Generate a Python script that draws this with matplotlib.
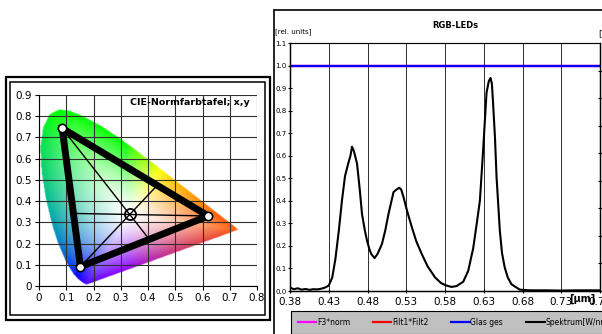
import numpy as np
import matplotlib
matplotlib.use("Agg")
import matplotlib.pyplot as plt
from matplotlib.patches import Rectangle
from matplotlib.path import Path

# CIE 1931 spectral locus (x, y), 380 -> 700 nm
locus_x = [0.1741, 0.1733, 0.1714, 0.1644, 0.1566, 0.1440, 0.1241, 0.1096, 0.0913, 0.0687,
           0.0454, 0.0235, 0.0082, 0.0039, 0.0139, 0.0389, 0.0743, 0.1142, 0.1547, 0.2296,
           0.3016, 0.3731, 0.4441, 0.5125, 0.5752, 0.6270, 0.6658, 0.6915, 0.7079, 0.7190,
           0.7260, 0.7347]
locus_y = [0.0050, 0.0048, 0.0051, 0.0109, 0.0177, 0.0297, 0.0578, 0.0868, 0.1327, 0.2007,
           0.2950, 0.4127, 0.5384, 0.6548, 0.7502, 0.8120, 0.8338, 0.8262, 0.8059, 0.7543,
           0.6923, 0.6245, 0.5547, 0.4866, 0.4242, 0.3725, 0.3340, 0.3083, 0.2920, 0.2809,
           0.2740, 0.2653]

# LED primaries (green, red, blue) and white point
prim_x = [0.085, 0.621, 0.152]
prim_y = [0.743, 0.330, 0.091]
white_x, white_y = 0.333, 0.337

# spectrum of the RGB LEDs
wl_um = [0.380, 0.385, 0.390, 0.395, 0.400, 0.405, 0.410, 0.415, 0.420, 0.425, 0.430, 0.4345,
         0.4385, 0.443, 0.447, 0.451, 0.4557, 0.458, 0.460, 0.4625, 0.4665, 0.470, 0.4729,
         0.4765, 0.4794, 0.4825, 0.4849, 0.4891, 0.493, 0.4986, 0.503, 0.5071, 0.5136, 0.5175,
         0.5209, 0.5235, 0.5264, 0.5315, 0.5372, 0.543, 0.550, 0.5575, 0.5672, 0.575, 0.582,
         0.5885, 0.595, 0.6035, 0.610, 0.6164, 0.621, 0.625, 0.6292, 0.6336, 0.6365, 0.6387,
         0.6405, 0.642, 0.6445, 0.6465, 0.6507, 0.6535, 0.657, 0.661, 0.6657, 0.6764, 0.690,
         0.710, 0.730, 0.750, 0.780]
spektrum = [0.015, 0.008, 0.012, 0.006, 0.009, 0.005, 0.008, 0.007, 0.010, 0.015, 0.024, 0.060,
            0.140, 0.268, 0.400, 0.510, 0.573, 0.600, 0.640, 0.620, 0.565, 0.450, 0.342,
            0.270, 0.223, 0.185, 0.164, 0.146, 0.165, 0.208, 0.270, 0.342, 0.439, 0.450,
            0.458, 0.450, 0.417, 0.350, 0.283, 0.220, 0.164, 0.110, 0.060, 0.035, 0.024,
            0.018, 0.022, 0.041, 0.090, 0.190, 0.300, 0.400, 0.625, 0.880, 0.930, 0.945,
            0.920, 0.835, 0.680, 0.507, 0.270, 0.170, 0.105, 0.060, 0.030, 0.006, 0.003,
            0.003, 0.002, 0.003, 0.003]
glas_ges = [1.0, 1.0]
legend_labels = ["F3*norm", "Filt1*Filt2", "Glas ges", "Spektrum[W/nm]"]

W, H = 602, 334
fig = plt.figure(figsize=(W / 100, H / 100), dpi=100)
fig.patch.set_facecolor("white")


def fx(px):
    return px / W


def fy(py):
    return 1 - py / H


def box_blur(a, r):
    k = np.ones(2 * r + 1) / (2 * r + 1)
    a = np.apply_along_axis(lambda v: np.convolve(v, k, mode="same"), 0, a)
    return np.apply_along_axis(lambda v: np.convolve(v, k, mode="same"), 1, a)


def xy_to_rgb(x, y):
    y = np.clip(y, 1e-3, None)
    X, Z = x / y, (1 - x - y) / y
    rgb = np.dstack([3.2406 * X - 1.5372 - 0.4986 * Z,
                     -0.9689 * X + 1.8758 + 0.0415 * Z,
                     0.0557 * X - 0.2040 + 1.0570 * Z])
    rgb = np.clip(rgb, 0, None)
    rgb = rgb / rgb.max(axis=2, keepdims=True).clip(1e-6)
    rgb = rgb ** (1 / 1.6)
    r, g, b = rgb[..., 0], rgb[..., 1], rgb[..., 2]
    teal = 1 - 0.35 * np.minimum(g, b)          # cyan rim -> darker teal
    r2 = r * (1 - 0.45 * np.minimum(r, b))      # magenta rim -> violet
    g2 = g + 0.35 * r * (1 - b) * (1 - g)       # red tip -> orange
    return np.dstack([r2 * teal, np.clip(g2, 0, 1) * teal, b * teal])


# ---------------- left panel: CIE diagram ----------------
for (x0, y0, x1, y1, lw) in [(6, 77, 270, 320, 1.6), (10, 82, 265, 315, 1.1)]:
    fig.add_artist(Rectangle((fx(x0), fy(y1)), fx(x1) - fx(x0), fy(y0) - fy(y1), fill=False,
                             ec="black", lw=lw, transform=fig.transFigure))

ax = fig.add_axes([fx(39), fy(286), fx(257) - fx(39), fy(95) - fy(286)])
gx, gy = np.meshgrid(np.linspace(0, 0.8, 320), np.linspace(0, 0.9, 360))

# colour field: hue from the rim colour, paling toward the white centre
cx, cy = 1 / 3, 1 / 3
ring = np.column_stack([locus_x + locus_x[:1], locus_y + locus_y[:1]])
dense = np.vstack([np.linspace(ring[i], ring[i + 1], 40) for i in range(len(ring) - 1)])
ang_r = np.arctan2(dense[:, 1] - cy, dense[:, 0] - cx)
rad_r = np.hypot(dense[:, 0] - cx, dense[:, 1] - cy)
order = np.argsort(ang_r)
ang = np.arctan2(gy - cy, gx - cx)
rad = np.hypot(gx - cx, gy - cy)
rad_edge = np.interp(ang, ang_r[order], rad_r[order], period=2 * np.pi)
sat = np.clip(rad / rad_edge, 0, 1) ** 1.4
rim = xy_to_rgb(cx + rad_edge * np.cos(ang), cy + rad_edge * np.sin(ang))
rgb = 1 - sat[..., None] * (1 - rim)

inside = Path(np.column_stack([locus_x, locus_y])).contains_points(
    np.column_stack([gx.ravel(), gy.ravel()])).reshape(gx.shape).astype(float)
alpha = box_blur(inside, 4) * inside
alpha = np.clip(alpha * 1.4, 0, 1)
ax.imshow(np.dstack([rgb, alpha]), extent=[0, 0.8, 0, 0.9], origin="lower", aspect="auto",
          interpolation="bilinear", zorder=0)

ax.set_xlim(0, 0.8)
ax.set_ylim(0, 0.9)
ax.set_xticks(np.arange(0, 0.81, 0.1))
ax.set_yticks(np.arange(0, 0.91, 0.1))
ax.set_xticklabels([f"{v:g}" for v in np.round(np.arange(0, 0.81, 0.1), 1)])
ax.set_yticklabels([f"{v:g}" for v in np.round(np.arange(0, 0.91, 0.1), 1)])
ax.tick_params(labelsize=7.5, length=3, width=0.8, pad=2)
ax.grid(True, color="#303030", lw=0.8)
for s in ("top", "right"):
    ax.spines[s].set_visible(False)
ax.text(0.69, 0.962, "CIE-Normfarbtafel; x,y", transform=ax.transAxes, ha="center",
        va="center", fontsize=6.8, fontweight="bold")

# thick gamut triangle
ax.plot(prim_x + prim_x[:1], prim_y + prim_y[:1], color="black", lw=5,
        solid_joinstyle="round", zorder=3)

# thin lines from each primary through the white point to the opposite side
for i in range(3):
    v = np.array([prim_x[i], prim_y[i]])
    a = np.array([prim_x[(i + 1) % 3], prim_y[(i + 1) % 3]])
    b = np.array([prim_x[(i + 2) % 3], prim_y[(i + 2) % 3]])
    d = np.array([white_x, white_y]) - v
    M = np.column_stack([d, a - b])
    t, _ = np.linalg.solve(M, a - v)
    end = v + t * d
    ax.plot([v[0], end[0]], [v[1], end[1]], color="black", lw=1.0, zorder=4)

ax.plot(white_x, white_y, "o", ms=8, mfc="white", mec="black", mew=1.3, zorder=3.5)
ax.plot(prim_x, prim_y, "o", ms=6, mfc="white", mec="black", mew=1.2, ls="none", zorder=5)

# ---------------- right panel: spectrum ----------------
fig.add_artist(Rectangle((fx(274), -0.1), 1.2, fy(10) + 0.1, fill=False, ec="black",
                         lw=1.2, transform=fig.transFigure))

ax2 = fig.add_axes([fx(290), fy(291), fx(600) - fx(290), fy(43) - fy(291)])
ax2.plot([0.38, 0.78], [1.0, 1.0], color="#ff00ff", lw=1.6, label=legend_labels[0])
ax2.plot([0.38, 0.78], [1.0, 1.0], color="#ff0000", lw=1.6, label=legend_labels[1])
ax2.plot([0.38, 0.78], glas_ges, color="#0000ff", lw=1.6, label=legend_labels[2])
ax2.plot(wl_um, spektrum, color="black", lw=1.5, label=legend_labels[3])
ax2.set_xlim(0.38, 0.78)
ax2.set_ylim(0, 1.1)
xt = np.round(np.arange(0.38, 0.781, 0.05), 2)
ax2.set_xticks(xt)
ax2.set_xticklabels([f"{v:.2f}" for v in xt])
yt = np.round(np.arange(0, 1.11, 0.1), 1)
ax2.set_yticks(yt)
ax2.set_yticklabels([f"{v:.1f}" for v in yt])
ax2.tick_params(axis="y", labelsize=5, length=2.5, width=0.8, direction="inout", pad=1)
ax2.tick_params(axis="x", labelsize=7.5, length=3, width=0.8, direction="inout", pad=3)
ax2.grid(True, axis="x", color="#303030", lw=0.7)
ax2.spines["top"].set_color("#909090")
for s in ("left", "bottom", "right"):
    ax2.spines[s].set_linewidth(1.0)

ax3 = ax2.twinx()
ax3.set_ylim(0, 0.9)
ax3.set_yticks(np.round(np.arange(0, 0.81, 0.1), 1))
ax3.tick_params(axis="y", length=3, width=0.8, direction="inout", labelright=False)

fig.text(fx(455), fy(25), "RGB-LEDs", ha="center", va="center", fontsize=6, fontweight="bold")
fig.text(fx(275), fy(32), "[rel. units]", ha="left", va="center", fontsize=5)
fig.text(fx(598), fy(34), "[W/nm]", ha="left", va="center", fontsize=6)
fig.text(fx(582), fy(299), "[µm]", ha="center", va="center", fontsize=7, fontweight="bold")

leg = fig.legend(*ax2.get_legend_handles_labels(), loc="upper left",
                 bbox_to_anchor=(fx(291), fy(311)), ncol=4, fontsize=5.5, frameon=True,
                 fancybox=False, facecolor="#c0c0c0", edgecolor="black", framealpha=1,
                 handlelength=2.4, handletextpad=0.1, columnspacing=3.0, borderpad=0.9,
                 borderaxespad=0)
leg.get_frame().set_linewidth(0.8)

fig.savefig("out.png", dpi=100)
